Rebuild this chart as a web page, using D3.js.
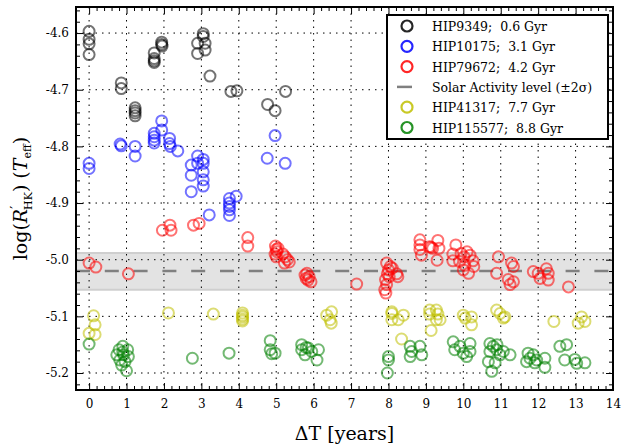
<!DOCTYPE html>
<html>
<head>
<meta charset="utf-8">
<script src="https://cdn.jsdelivr.net/npm/d3@7"></script>
<style>
  body { margin: 0; background: #fff; }
</style>
</head>
<body>
<div id="chart"></div>
<script>
// data: [deltaT years, log R'HK]
const hip9349 = [[0,-4.597],[0,-4.611],[0,-4.619],[0,-4.638],[0.86,-4.688],[0.86,-4.698],
  [1.23,-4.732],[1.23,-4.737],[1.23,-4.741],[1.23,-4.746],[1.74,-4.635],[1.74,-4.645],[1.74,-4.649],[1.74,-4.652],
  [1.94,-4.616],[1.94,-4.620],[1.95,-4.623],[2.9,-4.618],[2.9,-4.636],[3.05,-4.601],[3.05,-4.606],[3.1,-4.618],[3.1,-4.630],
  [3.23,-4.676],[3.79,-4.703],[3.95,-4.702],[4.77,-4.726],[4.97,-4.737],[5.25,-4.703]];
const hip10175 = [[0,-4.830],[0,-4.839],[0.83,-4.796],[0.86,-4.799],[1.23,-4.800],[1.23,-4.817],
  [1.74,-4.777],[1.74,-4.783],[1.74,-4.789],[1.74,-4.794],[1.94,-4.755],[1.94,-4.771],
  [2.15,-4.786],[2.15,-4.795],[2.17,-4.800],[2.37,-4.808],[2.73,-4.833],[2.73,-4.851],[2.73,-4.880],
  [2.9,-4.817],[2.9,-4.830],[3.05,-4.823],[3.05,-4.830],[3.05,-4.845],[3.05,-4.859],[3.05,-4.870],[3.21,-4.921],
  [3.75,-4.892],[3.75,-4.900],[3.75,-4.906],[3.75,-4.912],[3.75,-4.922],[3.93,-4.888],
  [4.76,-4.821],[4.97,-4.781],[5.24,-4.830]];
const hip79672 = [[0,-5.006],[0.18,-5.013],[1.05,-5.025],[1.96,-4.948],[2.16,-4.939],[2.19,-4.948],
  [2.79,-4.939],[2.94,-4.936],[4.24,-4.961],[4.24,-4.976],
  [4.98,-4.976],[5.0,-4.982],[5.02,-4.986],[4.97,-4.990],[5.05,-4.980],[5.0,-4.995],[5.18,-4.990],[5.24,-4.995],[5.3,-5.000],[5.35,-5.004],[5.22,-5.006],
  [5.77,-5.027],[5.82,-5.024],[5.88,-5.030],[5.85,-5.036],[5.93,-5.039],[5.80,-5.033],[7.15,-5.043],
  [7.95,-5.006],[8.05,-5.012],[8.0,-5.018],[7.97,-5.025],[8.02,-5.030],[7.92,-5.035],[7.95,-5.044],[7.9,-5.053],[7.93,-5.059],[8.22,-5.025],[8.25,-5.030],[8.1,-5.015],
  [8.84,-4.965],[8.84,-4.974],[8.84,-4.982],[8.88,-4.992],[9.1,-4.977],[9.14,-4.978],[9.18,-4.980],[9.32,-4.966],[9.35,-4.980],[9.3,-5.001],
  [9.8,-4.974],[9.72,-4.990],[9.72,-5.002],[9.94,-4.989],[10.02,-4.995],[10.1,-4.986],[10.18,-4.992],[10.26,-5.002],[10.04,-5.010],[9.9,-5.003],[10.14,-5.024],[10.28,-5.012],[10.0,-5.018],
  [10.94,-4.995],[10.89,-5.024],[11.29,-5.006],[11.34,-5.012],[11.2,-5.035],[11.25,-5.044],[11.34,-5.039],
  [11.87,-5.021],[12.0,-5.024],[12.22,-5.016],[12.27,-5.024],[12.27,-5.036],[12.05,-5.033],[12.81,-5.048]];
const hip41317 = [[0.12,-5.099],[0.16,-5.115],[0,-5.130],[0.16,-5.132],[2.12,-5.094],[3.32,-5.096],
  [4.1,-5.094],[4.1,-5.098],[4.1,-5.101],[4.1,-5.105],[4.1,-5.108],[6.35,-5.098],[6.48,-5.092],[6.44,-5.106],[6.47,-5.112],
  [8.09,-5.092],[8.09,-5.095],[8.09,-5.106],[8.26,-5.106],[8.4,-5.098],[8.35,-5.140],
  [9.1,-5.089],[9.1,-5.096],[9.28,-5.089],[9.32,-5.096],[9.28,-5.106],[9.38,-5.106],[9.14,-5.125],
  [10.0,-5.098],[10.05,-5.103],[10.22,-5.101],[10.22,-5.115],[10.89,-5.089],[10.98,-5.095],[11.11,-5.101],[11.07,-5.103],
  [12.42,-5.109],[13.16,-5.101],[13.25,-5.109],[13.07,-5.112]];
const hip115577 = [[0,-5.149],[0.8,-5.159],[0.9,-5.153],[1.03,-5.159],[0.74,-5.168],[0.92,-5.168],[1.05,-5.171],[0.82,-5.177],[0.96,-5.180],[0.87,-5.186],[1.0,-5.196],[0.9,-5.163],
  [2.76,-5.174],[3.74,-5.165],[4.84,-5.143],[4.84,-5.159],[4.88,-5.166],[4.97,-5.165],
  [5.68,-5.150],[5.68,-5.159],[5.86,-5.156],[5.95,-5.162],[5.77,-5.168],[6.13,-5.159],[6.09,-5.177],[5.8,-5.155],
  [8.0,-5.171],[8.0,-5.177],[7.97,-5.200],[8.58,-5.153],[8.62,-5.162],[8.84,-5.153],[8.89,-5.168],[8.58,-5.171],
  [9.73,-5.145],[9.77,-5.159],[9.91,-5.153],[10.18,-5.148],[10.18,-5.162],[10.09,-5.171],[10.0,-5.165],
  [10.71,-5.148],[10.8,-5.153],[10.71,-5.162],[10.89,-5.159],[10.98,-5.168],[11.07,-5.162],[11.25,-5.168],[10.67,-5.180],[10.85,-5.182],[10.76,-5.197],[10.9,-5.15],
  [11.73,-5.165],[11.78,-5.174],[11.87,-5.168],[11.69,-5.180],[11.91,-5.182],[12.18,-5.174],[12.18,-5.190],[11.96,-5.177],
  [12.58,-5.153],[12.76,-5.150],[12.71,-5.177],[12.98,-5.176],[13.25,-5.182],[13.03,-5.183]];

const solarMean = -5.02;
const solarBand = [-5.053, -4.988];

const xTicks = d3.range(0, 15, 1);
const yTicks = [-5.2, -5.1, -5.0, -4.9, -4.8, -4.7, -4.6];

const series = [
  { name: "HIP9349;  0.6 Gyr", data: hip9349, color: "#000000" },
  { name: "HIP10175;  3.1 Gyr", data: hip10175, color: "#0000ff" },
  { name: "HIP79672;  4.2 Gyr", data: hip79672, color: "#ff0000" },
  { name: "HIP41317;  7.7 Gyr", data: hip41317, color: "#bfbf00" },
  { name: "HIP115577;  8.8 Gyr", data: hip115577, color: "#008000" }
];

const FONT = '"DejaVu Serif", "Liberation Serif", serif';
const W = 622, H = 447;
const L = 76, R = 613, T = 7, B = 390;

const svg = d3.select("#chart").append("svg").attr("width", W).attr("height", H)
  .attr("font-family", FONT);

const x = d3.scaleLinear().domain([-0.35, 14]).range([L, R]);
const y = d3.scaleLinear().domain([-5.23, -4.554]).range([B, T]);

// solar band
svg.append("rect")
  .attr("x", L).attr("width", R - L)
  .attr("y", y(solarBand[1])).attr("height", y(solarBand[0]) - y(solarBand[1]))
  .attr("fill", "#e3e3e3");
solarBand.forEach(v => {
  svg.append("line").attr("x1", L).attr("x2", R).attr("y1", y(v)).attr("y2", y(v))
    .attr("stroke", "#cfcfcf").attr("stroke-width", 2);
});

// grid
const grid = svg.append("g").attr("stroke", "#000").attr("stroke-width", 1).attr("stroke-dasharray", "1.5,5");
xTicks.forEach(t => grid.append("line").attr("x1", x(t)).attr("x2", x(t)).attr("y1", T).attr("y2", B));
yTicks.forEach(t => grid.append("line").attr("x1", L).attr("x2", R).attr("y1", y(t)).attr("y2", y(t)));

// solar mean dashed
svg.append("line").attr("x1", L).attr("x2", R).attr("y1", y(solarMean)).attr("y2", y(solarMean))
  .attr("stroke", "#808080").attr("stroke-width", 2.5).attr("stroke-dasharray", "14,14.8");

// points
const pts = svg.append("g");
series.forEach(s => {
  pts.selectAll(null).data(s.data).enter().append("circle")
    .attr("cx", d => x(d[0])).attr("cy", d => y(d[1])).attr("r", 5.5)
    .attr("fill", "none").attr("stroke", s.color).attr("stroke-width", 2)
    .attr("stroke-opacity", 0.55);
});

// axes, ticks pointing inward
const xMinor = d3.range(0, 14.01, 0.2).filter(v => Math.abs(v - Math.round(v)) > 1e-6);
const yMinor = d3.range(-5.22, -4.55, 0.02).filter(v => Math.abs(v * 10 - Math.round(v * 10)) > 1e-6);

function styleAxis(g) {
  g.attr("font-family", FONT);
  g.select(".domain").remove();
  g.selectAll("line").attr("stroke", "#000").attr("stroke-width", 1);
  g.selectAll("text").attr("font-size", 12).attr("fill", "#000").attr("font-family", FONT);
}

svg.append("g").attr("transform", `translate(0,${B})`)
  .call(d3.axisBottom(x).tickValues(xTicks).tickSize(-7).tickPadding(9).tickFormat(d3.format("d"))).call(styleAxis);
svg.append("g").attr("transform", `translate(0,${B})`)
  .call(d3.axisBottom(x).tickValues(xMinor).tickSize(-4).tickFormat("")).call(styleAxis);
svg.append("g").attr("transform", `translate(0,${T})`)
  .call(d3.axisTop(x).tickValues(xTicks).tickSize(-7).tickFormat("")).call(styleAxis);
svg.append("g").attr("transform", `translate(0,${T})`)
  .call(d3.axisTop(x).tickValues(xMinor).tickSize(-4).tickFormat("")).call(styleAxis);

svg.append("g").attr("transform", `translate(${L},0)`)
  .call(d3.axisLeft(y).tickValues(yTicks).tickSize(-7).tickPadding(7).tickFormat(d => d.toFixed(1))).call(styleAxis);
svg.append("g").attr("transform", `translate(${L},0)`)
  .call(d3.axisLeft(y).tickValues(yMinor).tickSize(-4).tickFormat("")).call(styleAxis);
svg.append("g").attr("transform", `translate(${R},0)`)
  .call(d3.axisRight(y).tickValues(yTicks).tickSize(-7).tickFormat("")).call(styleAxis);
svg.append("g").attr("transform", `translate(${R},0)`)
  .call(d3.axisRight(y).tickValues(yMinor).tickSize(-4).tickFormat("")).call(styleAxis);

// frame
svg.append("rect").attr("x", L).attr("y", T).attr("width", R - L).attr("height", B - T)
  .attr("fill", "none").attr("stroke", "#000").attr("stroke-width", 2);

// axis labels
svg.append("text").attr("x", (L + R) / 2).attr("y", 440).attr("text-anchor", "middle")
  .attr("font-size", 19).text("ΔT [years]");

const yl = svg.append("text").attr("transform", `translate(27,${(T + B) / 2}) rotate(-90)`)
  .attr("text-anchor", "middle").attr("font-size", 19);
yl.append("tspan").text("log(");
yl.append("tspan").attr("font-style", "italic").text("R");
yl.append("tspan").attr("dy", -7).attr("font-size", 13).text("′");
yl.append("tspan").attr("dy", 12).attr("dx", -4).attr("font-size", 11).text("HK");
yl.append("tspan").attr("dy", -5).text(") (");
yl.append("tspan").attr("font-style", "italic").text("T");
yl.append("tspan").attr("dy", 4).attr("font-size", 11).text("eff");
yl.append("tspan").attr("dy", -4).text(")");

// legend
const leg = svg.append("g");
leg.append("rect").attr("x", 387).attr("y", 15).attr("width", 221).attr("height", 124)
  .attr("fill", "#fff").attr("stroke", "#000").attr("stroke-width", 2);
const legItems = [series[0], series[1], series[2], { name: "Solar Activity level (±2σ)", line: true }, series[3], series[4]];
legItems.forEach((d, i) => {
  const cy = 26 + i * 20.3;
  if (d.line) {
    leg.append("line").attr("x1", 397).attr("x2", 412).attr("y1", cy).attr("y2", cy)
      .attr("stroke", "#808080").attr("stroke-width", 2.5);
  } else {
    leg.append("circle").attr("cx", 407).attr("cy", cy).attr("r", 5.5)
      .attr("fill", "none").attr("stroke", d.color).attr("stroke-width", 2.2).attr("stroke-opacity", 0.85);
  }
  leg.append("text").attr("x", 432).attr("y", cy + 5).attr("font-size", 12.5)
    .attr("xml:space", "preserve").style("white-space", "pre").text(d.name);
});
</script>
</body>
</html>
